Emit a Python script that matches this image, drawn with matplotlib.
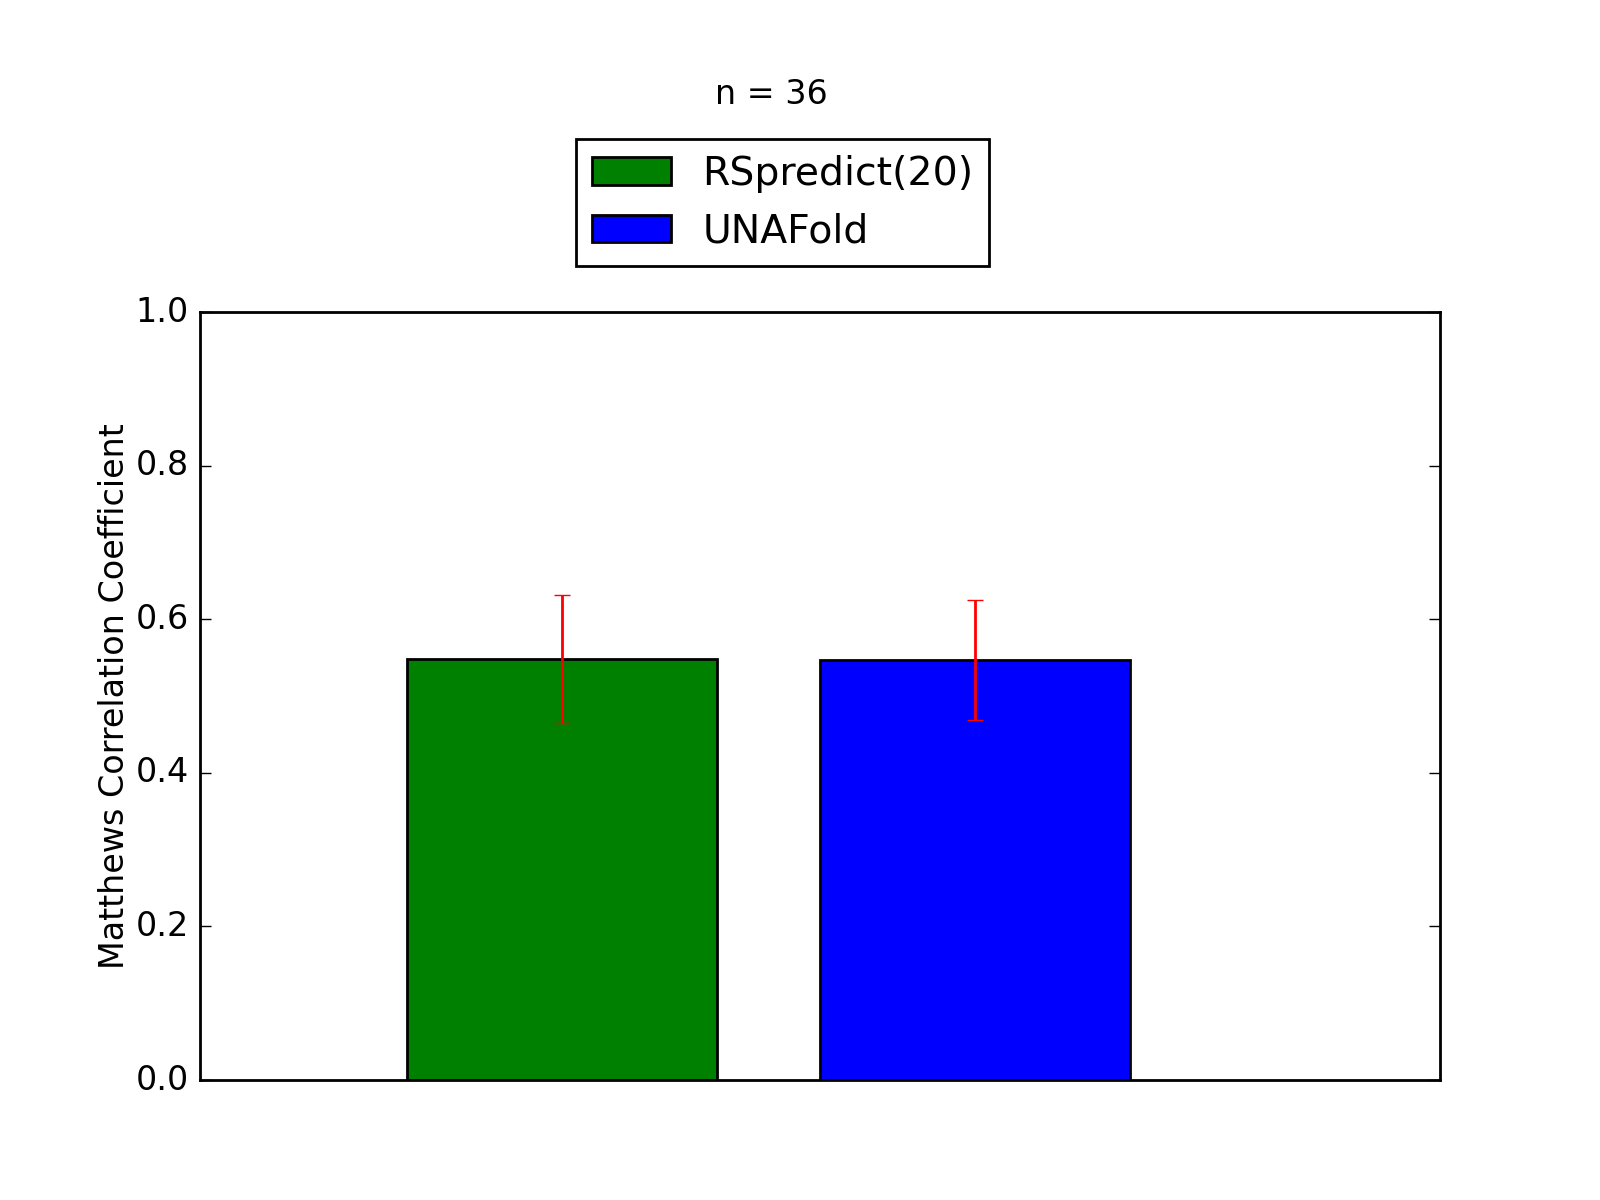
import matplotlib
matplotlib.use('Agg')
import matplotlib.pyplot as plt

plt.style.use('classic')

methods = ['RSpredict(20)', 'UNAFold']
mcc = [0.548, 0.547]
mcc_err = [0.083, 0.078]
colors = ['green', 'blue']
n_seqs = 36

fig = plt.figure(figsize=(8, 6))
fig.subplots_adjust(left=0.125, right=0.9, bottom=0.1, top=0.74)
ax = fig.add_subplot(111)

width = 0.3
xs = [0.2, 0.6]
for x, v, e, c, lab in zip(xs, mcc, mcc_err, colors, methods):
    ax.bar(x, v, width, align='edge', color=c, label=lab)
    ax.errorbar(x + width / 2, v, yerr=e, ecolor='red', fmt='none', capsize=3)

ax.set_xlim(0, 1.2)
ax.set_ylim(0, 1.0)
ax.set_xticks([])
ax.set_ylabel('Matthews Correlation Coefficient', labelpad=1.5)

ax.legend(loc='lower center', bbox_to_anchor=(0.47, 1.034), fontsize=14.2)
ax.text(0.461, 1.283, 'n = %d' % n_seqs, transform=ax.transAxes,
        ha='center', va='center', fontsize=12)

fig.savefig('out.png', dpi=200)
